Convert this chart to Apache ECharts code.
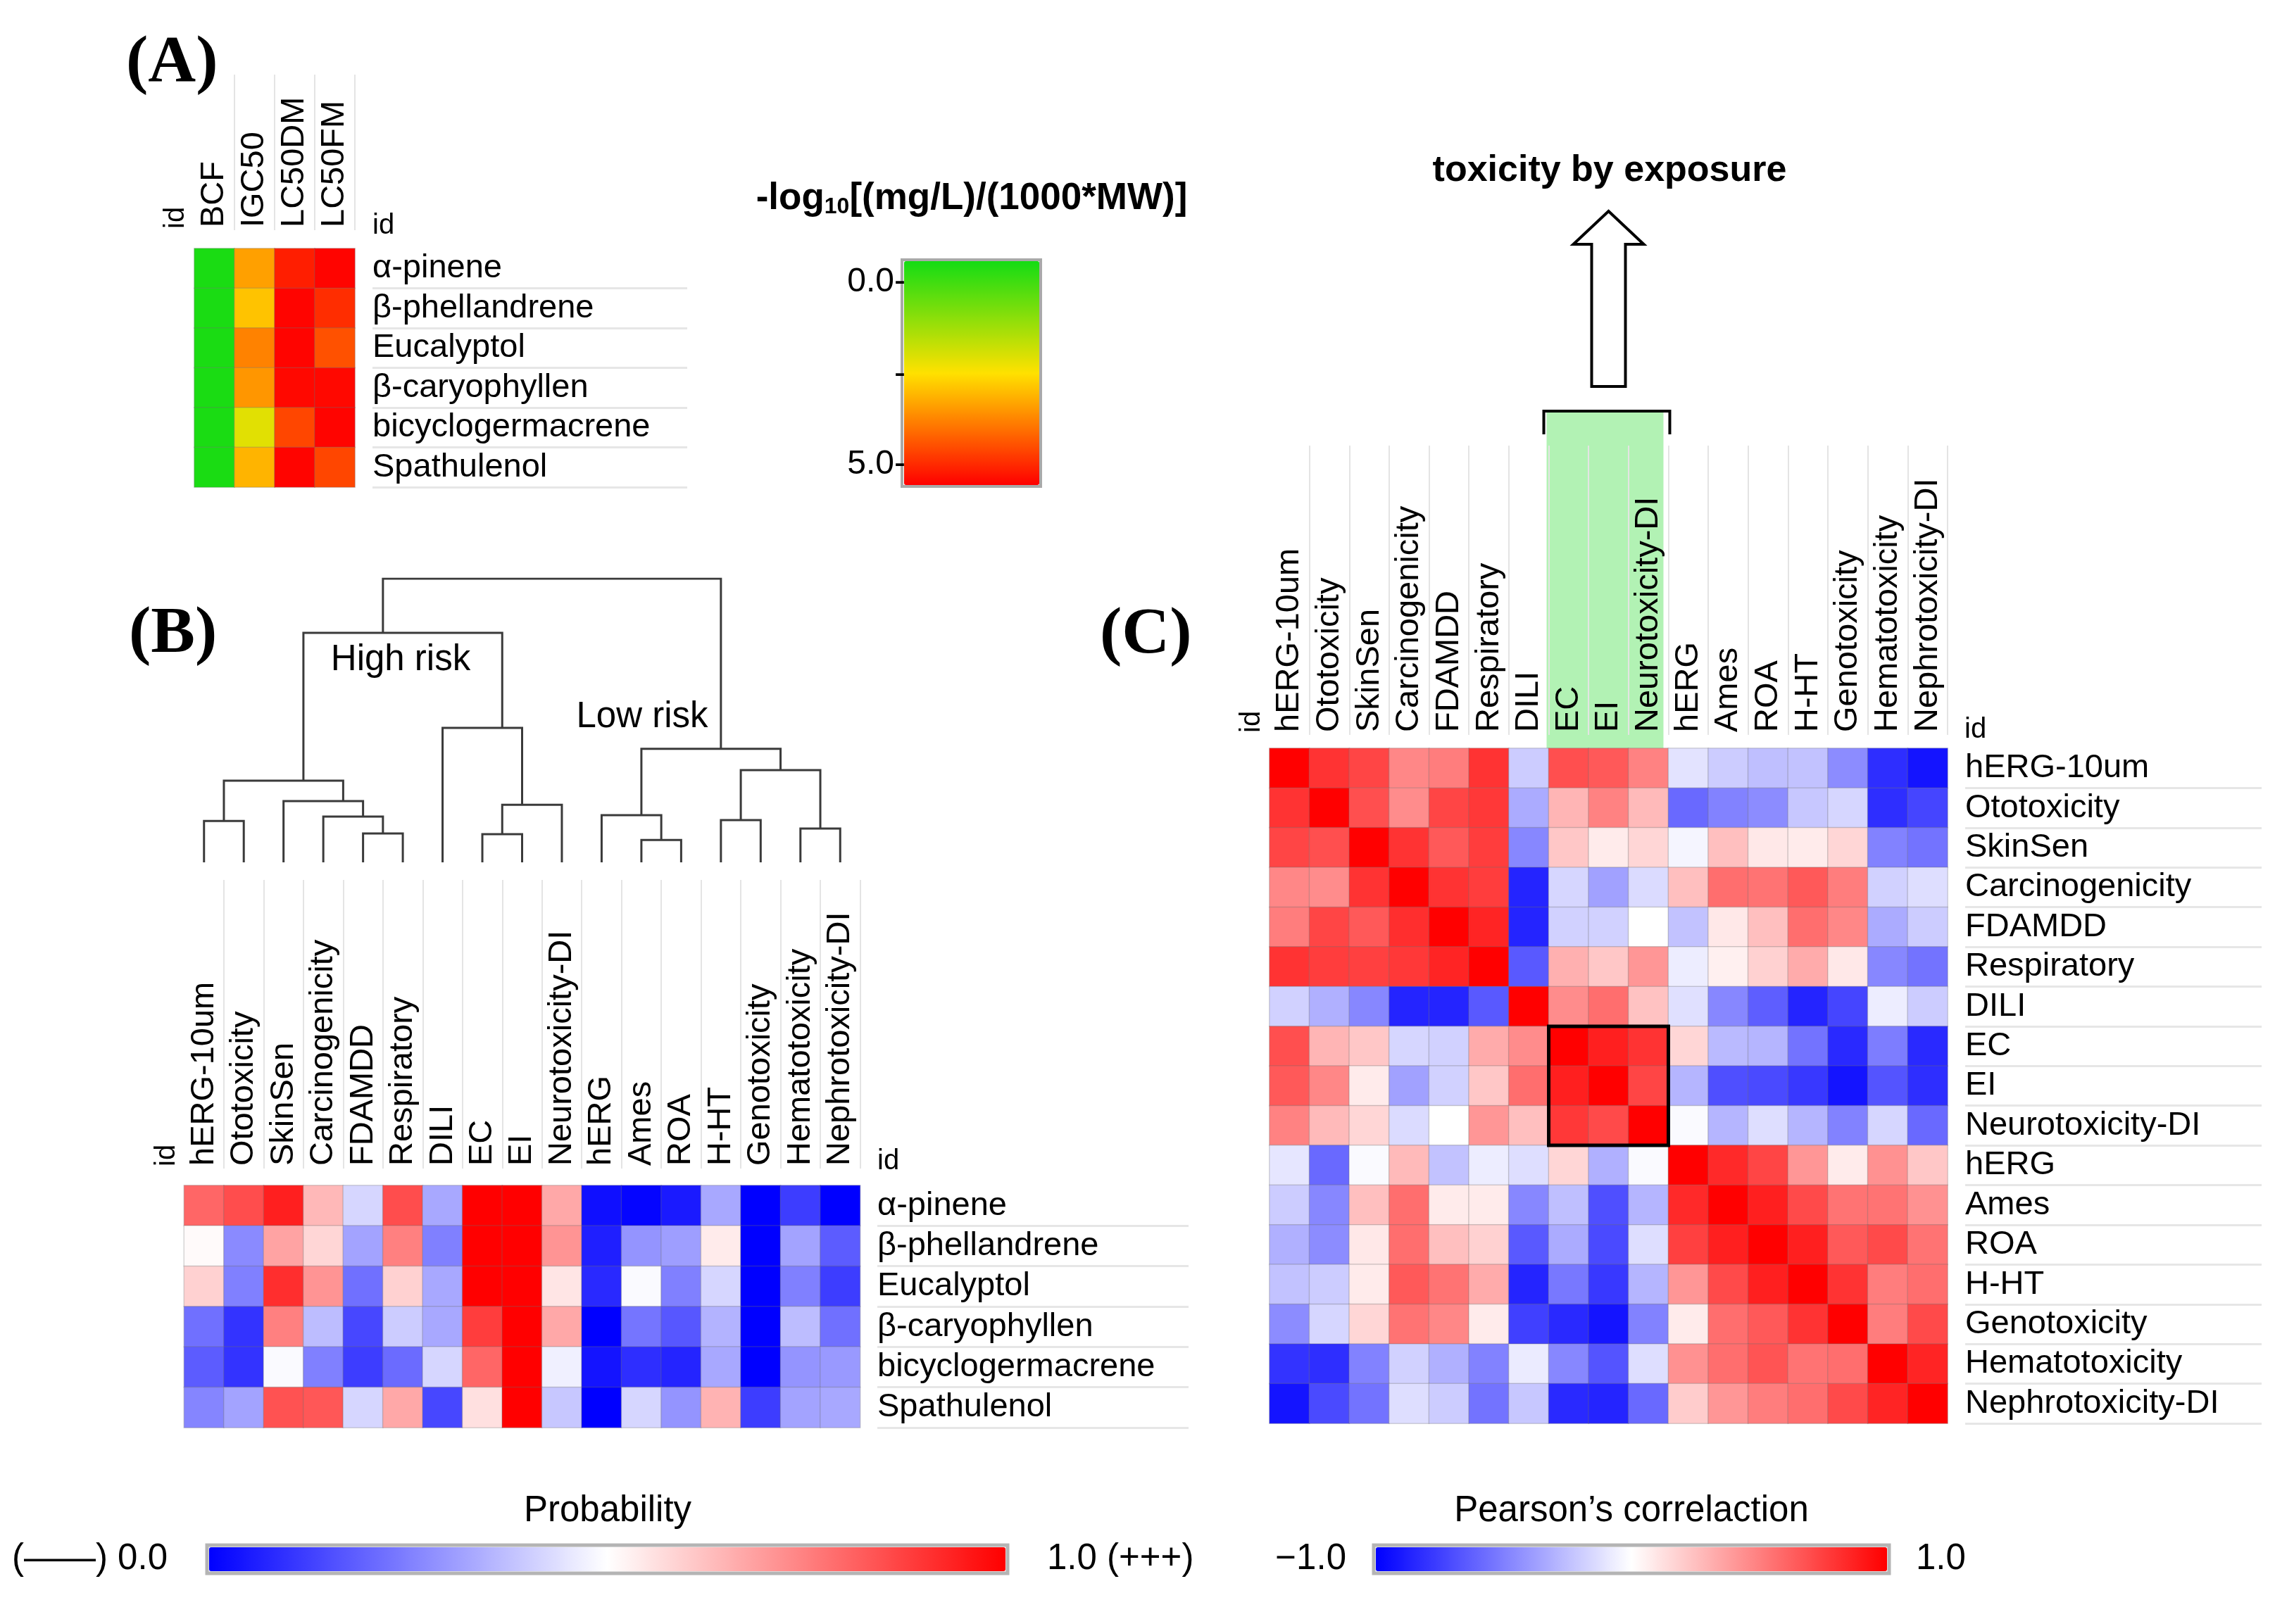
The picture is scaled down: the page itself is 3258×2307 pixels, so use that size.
<!DOCTYPE html>
<html><head><meta charset="utf-8">
<script src="https://cdn.jsdelivr.net/npm/echarts@6/dist/echarts.min.js"></script>
<style>html,body{margin:0;padding:0;background:#fff}#c{width:3258px;height:2307px}</style>
</head><body><div id="c"></div>
<script>
// ---------- DATA ----------
const colsA = ['BCF', 'IGC50', 'LC50DM', 'LC50FM'];
const compounds = ['α-pinene', 'β-phellandrene', 'Eucalyptol', 'β-caryophyllen', 'bicyclogermacrene', 'Spathulenol'];
// -log10[(mg/L)/(1000*MW)], rows = compounds, cols = colsA
const ecoTox = [
  [-0.5, 3.38, 5.15, 5.50],
  [-0.5, 2.90, 5.50, 4.95],
  [-0.5, 3.78, 5.50, 4.45],
  [-0.5, 3.51, 5.45, 5.45],
  [-0.5, 2.10, 4.60, 5.50],
  [-0.5, 3.10, 5.50, 4.60]
];
const endpoints = ['hERG-10um', 'Ototoxicity', 'SkinSen', 'Carcinogenicity', 'FDAMDD', 'Respiratory', 'DILI', 'EC', 'EI', 'Neurotoxicity-DI', 'hERG', 'Ames', 'ROA', 'H-HT', 'Genotoxicity', 'Hematotoxicity', 'Nephrotoxicity-DI'];
// probability, rows = compounds, cols = endpoints
const probability = [
  [0.80, 0.85, 0.94, 0.64, 0.42, 0.85, 0.33, 1.00, 1.00, 0.67, 0.03, 0.01, 0.05, 0.33, 0.00, 0.12, 0.00],
  [0.51, 0.27, 0.68, 0.58, 0.32, 0.75, 0.25, 1.00, 1.00, 0.71, 0.06, 0.29, 0.31, 0.54, 0.00, 0.32, 0.18],
  [0.59, 0.25, 0.91, 0.71, 0.22, 0.59, 0.33, 1.00, 1.00, 0.55, 0.08, 0.49, 0.25, 0.42, 0.00, 0.25, 0.12],
  [0.22, 0.10, 0.75, 0.37, 0.14, 0.40, 0.33, 0.88, 1.00, 0.67, 0.00, 0.23, 0.17, 0.35, 0.00, 0.37, 0.22],
  [0.18, 0.10, 0.49, 0.25, 0.12, 0.21, 0.42, 0.80, 1.00, 0.47, 0.04, 0.09, 0.07, 0.33, 0.00, 0.29, 0.30],
  [0.26, 0.32, 0.84, 0.83, 0.42, 0.67, 0.14, 0.56, 1.00, 0.39, 0.00, 0.42, 0.29, 0.65, 0.12, 0.32, 0.33]
];
// Pearson's correlation between endpoints
const correlation = [
  [1.00, 0.80, 0.73, 0.47, 0.51, 0.80, -0.20, 0.69, 0.65, 0.49, -0.11, -0.20, -0.25, -0.24, -0.45, -0.82, -0.92],
  [0.80, 1.00, 0.69, 0.45, 0.73, 0.78, -0.33, 0.29, 0.49, 0.27, -0.59, -0.49, -0.45, -0.22, -0.16, -0.82, -0.73],
  [0.73, 0.69, 1.00, 0.80, 0.65, 0.76, -0.47, 0.22, 0.08, 0.16, -0.04, 0.25, 0.09, 0.08, 0.16, -0.49, -0.55],
  [0.47, 0.45, 0.80, 1.00, 0.80, 0.76, -0.86, -0.16, -0.37, -0.14, 0.25, 0.57, 0.55, 0.65, 0.51, -0.18, -0.13],
  [0.51, 0.73, 0.65, 0.82, 1.00, 0.86, -0.86, -0.18, -0.18, 0.00, -0.24, 0.09, 0.25, 0.57, 0.47, -0.33, -0.20],
  [0.80, 0.76, 0.75, 0.78, 0.86, 1.00, -0.65, 0.31, 0.22, 0.41, -0.07, 0.06, 0.18, 0.33, 0.09, -0.47, -0.55],
  [-0.18, -0.31, -0.47, -0.86, -0.86, -0.65, 1.00, 0.45, 0.57, 0.24, -0.12, -0.47, -0.63, -0.86, -0.73, -0.07, -0.20],
  [0.69, 0.29, 0.22, -0.16, -0.18, 0.33, 0.45, 1.00, 0.88, 0.80, 0.16, -0.27, -0.29, -0.55, -0.84, -0.51, -0.84],
  [0.65, 0.47, 0.08, -0.37, -0.18, 0.22, 0.57, 0.88, 1.00, 0.73, -0.29, -0.69, -0.71, -0.78, -0.92, -0.67, -0.82],
  [0.49, 0.27, 0.16, -0.14, 0.00, 0.41, 0.25, 0.78, 0.71, 1.00, -0.02, -0.29, -0.13, -0.29, -0.49, -0.16, -0.59],
  [-0.10, -0.59, -0.02, 0.27, -0.24, -0.07, -0.13, 0.16, -0.31, -0.02, 1.00, 0.84, 0.73, 0.41, 0.08, 0.43, 0.22],
  [-0.20, -0.47, 0.25, 0.57, 0.08, 0.08, -0.47, -0.25, -0.69, -0.29, 0.84, 1.00, 0.88, 0.71, 0.55, 0.55, 0.43],
  [-0.31, -0.45, 0.09, 0.57, 0.25, 0.18, -0.65, -0.33, -0.71, -0.13, 0.75, 0.88, 1.00, 0.88, 0.65, 0.71, 0.55],
  [-0.24, -0.20, 0.08, 0.65, 0.55, 0.33, -0.86, -0.53, -0.78, -0.29, 0.41, 0.71, 0.88, 1.00, 0.80, 0.51, 0.57],
  [-0.45, -0.16, 0.16, 0.55, 0.47, 0.08, -0.75, -0.84, -0.92, -0.49, 0.08, 0.57, 0.65, 0.80, 1.00, 0.51, 0.71],
  [-0.80, -0.82, -0.49, -0.18, -0.31, -0.49, -0.08, -0.47, -0.67, -0.13, 0.43, 0.57, 0.67, 0.55, 0.57, 1.00, 0.86],
  [-0.92, -0.71, -0.55, -0.13, -0.20, -0.55, -0.22, -0.84, -0.86, -0.59, 0.20, 0.41, 0.51, 0.57, 0.71, 0.86, 1.00]
];
// hierarchical clustering of endpoints: [child A, child B, height]; ids 0-16 leaves, 17+ merged nodes in order
const dendroMerges = [
  [11, 12, 0.079], [7, 8, 0.099], [4, 5, 0.102], [15, 16, 0.119], [0, 1, 0.146], [13, 14, 0.149],
  [3, 19, 0.161], [10, 17, 0.166], [18, 9, 0.203], [2, 23, 0.216], [21, 26, 0.288], [22, 20, 0.325],
  [24, 28, 0.400], [6, 25, 0.474], [27, 30, 0.809], [31, 29, 1.000]
];
const clusterLabels = ['High risk', 'Low risk'];
const highlightEndpoints = ['EC', 'EI', 'Neurotoxicity-DI'];
const ecoTicks = ['0.0-', '-', '5.0-'];
const ecoRange = [-0.58, 5.56];
const probLabels = ['(——) 0.0', '1.0 (+++)'];
const corrLabels = ['−1.0', '1.0'];

// ---------- HELPERS ----------
const FONT = 'Liberation Sans, Arial, Helvetica, sans-serif';
function cells(matrix) {
  const out = [];
  matrix.forEach((row, r) => row.forEach((v, c) => out.push([c, r, v])));
  return out;
}
const nodes = endpoints.map((_, i) => ({ x: i, h: 0, leaves: [i] }));
dendroMerges.forEach(([a, b, h]) => {
  const leaves = nodes[a].leaves.concat(nodes[b].leaves);
  nodes.push({ x: leaves.reduce((s, v) => s + v, 0) / leaves.length, h: h, leaves: leaves });
});
const dendroLines = dendroMerges.map(([a, b, h]) => ({
  coords: [[nodes[a].x, nodes[a].h], [nodes[a].x, h], [nodes[b].x, h], [nodes[b].x, nodes[b].h]]
}));

function headerX(grid, data) {
  return {
    type: 'category', gridIndex: grid, data: data, position: 'bottom', z: 10,
    axisLine: { show: false }, axisTick: { show: false },
    axisLabel: { inside: true, rotate: 90, margin: 4, fontSize: 47, color: '#000', fontFamily: FONT, interval: 0, padding: [0, 0, 14, 0] },
    splitLine: { show: true, interval: function (i) { return i > 0; }, lineStyle: { color: '#e4e4e4', width: 2 } }
  };
}
function labelY(grid, data) {
  return {
    type: 'category', gridIndex: grid, data: data, inverse: true,
    axisLine: { show: false }, axisTick: { show: false },
    axisLabel: { inside: true, margin: 0, fontSize: 47, color: '#000', fontFamily: FONT, interval: 0, padding: [0, 0, 11, 0] },
    splitLine: { show: true, interval: function (i) { return i > 0; }, lineStyle: { color: '#e6e6e6', width: 3 } }
  };
}
function hiddenCat(grid, data, inverse) {
  return { type: 'category', gridIndex: grid, data: data, show: false, inverse: !!inverse };
}
function hiddenVal(grid, min, max) {
  return { type: 'value', gridIndex: grid, show: false, min: min, max: max };
}
function txt(text, x, y, font, align, vAlign, extra) {
  return Object.assign({
    type: 'text', x: x, y: y, z: 20,
    style: { text: text, font: font, fill: '#000', textAlign: align, textVerticalAlign: vAlign, align: align, verticalAlign: vAlign }
  }, extra || {});
}

const cellBorder = { borderColor: 'rgba(110,110,110,0.28)', borderWidth: 1.5 };

const option = {
  animation: false,
  backgroundColor: '#fff',
  grid: [
    { left: 276, top: 353, width: 228, height: 339 },   // 0 A heatmap
    { left: 529, top: 353, width: 447, height: 339 },   // 1 A row labels
    { left: 276, top: 106, width: 228, height: 221 },   // 2 A header
    { left: 261.5, top: 822, width: 960, height: 403 }, // 3 dendrogram
    { left: 261.5, top: 1250, width: 960, height: 410 },// 4 B header
    { left: 261.5, top: 1684, width: 960, height: 344 },// 5 B heatmap
    { left: 1246, top: 1684, width: 442, height: 344 }, // 6 B row labels
    { left: 1803, top: 633, width: 963, height: 411 },  // 7 C header
    { left: 1803, top: 1063, width: 963, height: 959 }, // 8 C heatmap
    { left: 2791, top: 1063, width: 421, height: 959 }  // 9 C row labels
  ],
  xAxis: [
    hiddenCat(0, colsA),
    hiddenVal(1, 0, 1),
    headerX(2, colsA),
    hiddenVal(3, -0.5, endpoints.length - 0.5),
    headerX(4, endpoints),
    hiddenCat(5, endpoints),
    hiddenVal(6, 0, 1),
    headerX(7, endpoints),
    hiddenCat(8, endpoints),
    hiddenVal(9, 0, 1)
  ],
  yAxis: [
    hiddenCat(0, compounds, true),
    labelY(1, compounds),
    hiddenVal(2, 0, 1),
    hiddenVal(3, 0, 1),
    hiddenVal(4, 0, 1),
    hiddenCat(5, compounds, true),
    labelY(6, compounds),
    hiddenVal(7, 0, 1),
    hiddenCat(8, endpoints, true),
    labelY(9, endpoints)
  ],
  visualMap: [
    { type: 'continuous', seriesIndex: 0, min: ecoRange[0], max: ecoRange[1], inverse: true, orient: 'vertical',
      left: 1284, top: 371, itemWidth: 192, itemHeight: 318, padding: 0, calculable: false, text: null,
      inRange: { color: ['#14dc14', '#ffe100', '#ff0000'] } },
    { type: 'continuous', seriesIndex: 1, min: 0, max: 1, orient: 'horizontal',
      left: 297, top: 2198, itemWidth: 34, itemHeight: 1131, padding: 0, calculable: false, text: null,
      inRange: { color: ['#0000ff', '#ffffff', '#ff0000'] } },
    { type: 'continuous', seriesIndex: 2, min: -1, max: 1, orient: 'horizontal',
      left: 1954, top: 2198, itemWidth: 34, itemHeight: 726, padding: 0, calculable: false, text: null,
      inRange: { color: ['#0000ff', '#ffffff', '#ff0000'] } }
  ],
  series: [
    { type: 'heatmap', xAxisIndex: 0, yAxisIndex: 0, data: cells(ecoTox), itemStyle: cellBorder, emphasis: { disabled: true } },
    { type: 'heatmap', xAxisIndex: 5, yAxisIndex: 5, data: cells(probability), itemStyle: cellBorder, emphasis: { disabled: true } },
    { type: 'heatmap', xAxisIndex: 8, yAxisIndex: 8, data: cells(correlation), itemStyle: cellBorder, emphasis: { disabled: true } },
    { type: 'lines', coordinateSystem: 'cartesian2d', xAxisIndex: 3, yAxisIndex: 3, polyline: true,
      data: dendroLines, lineStyle: { color: '#3a3a3a', width: 3, opacity: 1 }, silent: true },
    { type: 'custom', xAxisIndex: 7, yAxisIndex: 7, clip: false, z: 1, silent: true,
      data: [[endpoints.indexOf(highlightEndpoints[0]), endpoints.indexOf(highlightEndpoints[highlightEndpoints.length - 1])]],
      renderItem: function (params, api) {
        const bw = api.size([1, 0])[0];
        const p0 = api.coord([api.value(0), 0]);
        const p1 = api.coord([api.value(1), 1]);
        const x0 = p0[0] - bw / 2, x1 = p1[0] + bw / 2;
        const top = p1[1] - 49, bottom = p0[1] + 19;
        const cx = (x0 + x1) / 2;
        return { type: 'group', children: [
          { type: 'rect', shape: { x: x0 - 3, y: top, width: x1 - x0 - 4, height: bottom - top }, style: { fill: '#b2f2b4' } },
          { type: 'polyline', shape: { points: [[x0 - 7, top + 33], [x0 - 7, top], [x1 + 2, top], [x1 + 2, top + 33]] },
            style: { stroke: '#000', lineWidth: 4, fill: null } },
          { type: 'polygon', shape: { points: [[cx, top - 284], [cx + 50, top - 237], [cx + 24, top - 237], [cx + 24, top - 35],
            [cx - 24, top - 35], [cx - 24, top - 237], [cx - 50, top - 237]] },
            style: { stroke: '#000', lineWidth: 4, fill: '#fff' } }
        ] };
      }
    },
    { type: 'custom', xAxisIndex: 8, yAxisIndex: 8, clip: false, z: 5, silent: true,
      data: [[endpoints.indexOf(highlightEndpoints[0]), endpoints.indexOf(highlightEndpoints[highlightEndpoints.length - 1])]],
      renderItem: function (params, api) {
        const s = api.size([1, 1]);
        const a = api.coord([api.value(0), api.value(0)]);
        const b = api.coord([api.value(1), api.value(1)]);
        return { type: 'rect', shape: { x: a[0] - s[0] / 2, y: a[1] - s[1] / 2, width: b[0] - a[0] + s[0], height: b[1] - a[1] + s[1] },
          style: { fill: null, stroke: '#000', lineWidth: 5 } };
      }
    }
  ],
  graphic: [
    txt('(A)', 179, 91, 'bold 94px Liberation Serif, Times New Roman, serif', 'left', 'middle'),
    txt('(B)', 183, 902, 'bold 94px Liberation Serif, Times New Roman, serif', 'left', 'middle'),
    txt('(C)', 1562, 903, 'bold 94px Liberation Serif, Times New Roman, serif', 'left', 'middle'),
    { type: 'text', x: 1380, y: 282, z: 20, style: {
      text: '{a|-log}{s|10}{a|[(mg/L)/(1000*MW)]}', textAlign: 'center', textVerticalAlign: 'middle', align: 'center', verticalAlign: 'middle',
      rich: { a: { font: 'bold 53px ' + FONT, fill: '#000', lineHeight: 56 }, s: { font: 'bold 32px ' + FONT, fill: '#000', verticalAlign: 'bottom', lineHeight: 34 } } } },
    txt(ecoTicks[0], 1286, 401, '48px ' + FONT, 'right', 'middle'),
    txt(ecoTicks[1], 1286, 532, '48px ' + FONT, 'right', 'middle'),
    txt(ecoTicks[2], 1286, 660, '48px ' + FONT, 'right', 'middle'),
    { type: 'rect', z: 15, shape: { x: 1281, y: 369, width: 197, height: 322 }, style: { fill: null, stroke: '#a9a9a9', lineWidth: 4 } },
    txt('toxicity by exposure', 2286, 243, 'bold 52px ' + FONT, 'center', 'middle'),
    txt(clusterLabels[0], 569, 938, '51px ' + FONT, 'center', 'middle'),
    txt(clusterLabels[1], 912, 1019, '51px ' + FONT, 'center', 'middle'),
    txt('id', 250, 325, '40px ' + FONT, 'left', 'middle', { rotation: Math.PI / 2 }),
    txt('id', 529, 321, '40px ' + FONT, 'left', 'middle'),
    txt('id', 237, 1657, '40px ' + FONT, 'left', 'middle', { rotation: Math.PI / 2 }),
    txt('id', 1246, 1650, '40px ' + FONT, 'left', 'middle'),
    txt('id', 1778, 1041, '40px ' + FONT, 'left', 'middle', { rotation: Math.PI / 2 }),
    txt('id', 2790, 1037, '40px ' + FONT, 'left', 'middle'),
    txt('Probability', 863, 2147, '51px ' + FONT, 'center', 'middle'),
    txt('Pearson’s correlaction', 2317, 2147, '51px ' + FONT, 'center', 'middle'),
    { type: 'rect', z: 15, shape: { x: 294, y: 2195, width: 1137, height: 40 }, style: { fill: null, stroke: '#b4b4b4', lineWidth: 5 } },
    { type: 'rect', z: 15, shape: { x: 1951, y: 2195, width: 732, height: 40 }, style: { fill: null, stroke: '#b4b4b4', lineWidth: 5 } },
    txt(probLabels[0], 238, 2215, '51px ' + FONT, 'right', 'middle'),
    txt(probLabels[1], 1487, 2215, '51px ' + FONT, 'left', 'middle'),
    txt(corrLabels[0], 1912, 2215, '51px ' + FONT, 'right', 'middle'),
    txt(corrLabels[1], 2721, 2215, '51px ' + FONT, 'left', 'middle')
  ]
};
const chart = echarts.init(document.getElementById('c'), null, { renderer: 'canvas' });
chart.setOption(option);
</script>
</body></html>
